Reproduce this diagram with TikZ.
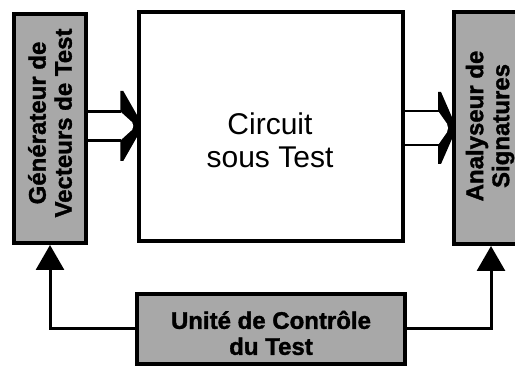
\documentclass[tikz,border=0pt]{standalone}
\usepackage{fontspec}
\setmainfont{Liberation Sans}
\newfontfamily\heavyfont[BoldFeatures={FakeBold=1.4}]{Liberation Sans}
\usetikzlibrary{arrows.meta,calc}
\definecolor{boxgray}{RGB}{168,168,168}
\newcommand\fatarw[5]{% #1 tip coordinate, #2 length, #3 shaft half, #4 head half, #5 head length
  \fill[black] ($(#1)+(-#5,#4)$) -- ($(#1)+(-#5+3,#4)$) -- ($(#1)+(0,0.3*#4)$)
     -- ($(#1)+(0,-0.3*#4)$) -- ($(#1)+(-#5+3,-#4)$) -- ($(#1)+(-#5,-#4)$) -- cycle;
  \fill[white] ($(#1)+(-#2,#3)$) -- ($(#1)+(-#5,#3)$) -- ($(#1)+(-5,0.25*#3)$)
     -- ($(#1)+(-4,0)$) -- ($(#1)+(-5,-0.25*#3)$) -- ($(#1)+(-#5,-#3)$)
     -- ($(#1)+(-#2,-#3)$) -- cycle;
  \draw[line width=2.8pt] ($(#1)+(-#2,#3)$) -- ($(#1)+(-#5+1,#3)$)
                          ($(#1)+(-#2,-#3)$) -- ($(#1)+(-#5+1,-#3)$);
}
\begin{document}
\begin{tikzpicture}[x=1pt,y=1pt,
  blk/.style={draw=black, line width=4pt, fill=boxgray, inner sep=0pt},
  mainbox/.style={draw=black, line width=3.5pt, fill=white, inner sep=0pt},
  lbl/.style={font=\heavyfont\fontsize{24}{26}\selectfont\bfseries, align=center, inner sep=0pt},
  ctlarrow/.style={line width=3pt, -{Triangle[width=28pt,length=25pt]}},
]
\useasboundingbox (0,0) rectangle (515,366);
\clip (0,0) rectangle (515,366);

% boxes
\node[blk, minimum width=72pt, minimum height=229pt] (gen) at (50,237.5) {};
\node[mainbox, minimum width=264pt, minimum height=229pt] (cut) at (271,239.5) {};
\node[blk, minimum width=74pt, minimum height=232pt] (ana) at (491,238) {};
\node[blk, minimum width=268pt, minimum height=70pt] (ctl) at (271,37) {};

% texts
\node[lbl, rotate=90] (gent) at (50,243) {Générateur de\\Vecteurs de Test};
\node[lbl, rotate=90] (anat) at (490,240) {Analyseur de\\Signatures};
\node[font=\fontsize{30}{33}\selectfont, align=center, inner sep=0pt] (cutt) at (270,226) {Circuit\\sous Test};
\node[lbl] (ctlt) at (271,33) {Unité de Contrôle\\du Test};

% fat arrows
\coordinate (ya) at (0,240);
\coordinate (yb) at (0,238);
\coordinate (tipa) at (cut.west |- ya);
\coordinate (tipb) at (ana.west |- yb);
\fatarw{tipa}{49}{14.5}{35}{17}
\fatarw{tipb}{47}{17}{36}{14}

% control connectors
\draw[ctlarrow] (ctl.west) -| (gen.south);
\draw[ctlarrow] (ctl.east) -| (ana.south);
\end{tikzpicture}
\end{document}
